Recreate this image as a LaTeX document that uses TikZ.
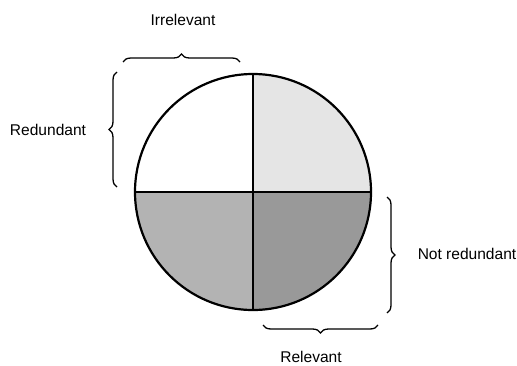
\documentclass[tikz,border=0pt]{standalone}
\usepackage{fontspec}
\setmainfont{Liberation Sans}
\usetikzlibrary{decorations.pathreplacing}
\definecolor{quadA}{HTML}{E5E5E5}
\definecolor{quadB}{HTML}{B3B3B3}
\definecolor{quadC}{HTML}{999999}
\tikzset{
  bracket/.style={decorate, decoration={brace, amplitude=8bp}, line width=1.3bp},
  lbl/.style={font=\fontsize{15.6}{18}\selectfont}
}
\begin{document}
\begin{tikzpicture}[x=1bp, y=1bp]
    \useasboundingbox (0,0) rectangle (517,365);
    % Define the centre of the disc
    \coordinate (O) at (253,173);
    \def\rad{118}

    % Fill the three shaded quarters
    \fill[quadA] (O) -- ++(0,\rad) arc[start angle=90, end angle=0, radius=\rad] -- cycle;
    \fill[quadB] (O) -- ++(-\rad,0) arc[start angle=180, end angle=270, radius=\rad] -- cycle;
    \fill[quadC] (O) -- ++(\rad,0) arc[start angle=0, end angle=-90, radius=\rad] -- cycle;

    % Draw the outline and the cross
    \draw[line width=2.2bp] (O) circle[radius=\rad];
    \draw[line width=2.2bp] (O) ++(0,\rad) -- ++(0,-2*\rad);
    \draw[line width=2.2bp] (O) ++(-\rad,0) -- ++(2*\rad,0);

    % Draw the braces
    \draw[bracket] (123,303) -- (240,303); % top
    \draw[bracket] (117,178) -- (117,293); % left
    \draw[bracket] (387,168) -- (387,52);  % right
    \draw[bracket] (378,40) -- (263,40);   % bottom

    % Place the labels
    \node[lbl] (irr) at (183,345) {Irrelevant};
    \node[lbl] (red) at (48,235) {Redundant};
    \node[lbl] (notred) at (467,111) {Not redundant};
    \node[lbl] (rel) at (311,8) {Relevant};
\end{tikzpicture}
\end{document}
